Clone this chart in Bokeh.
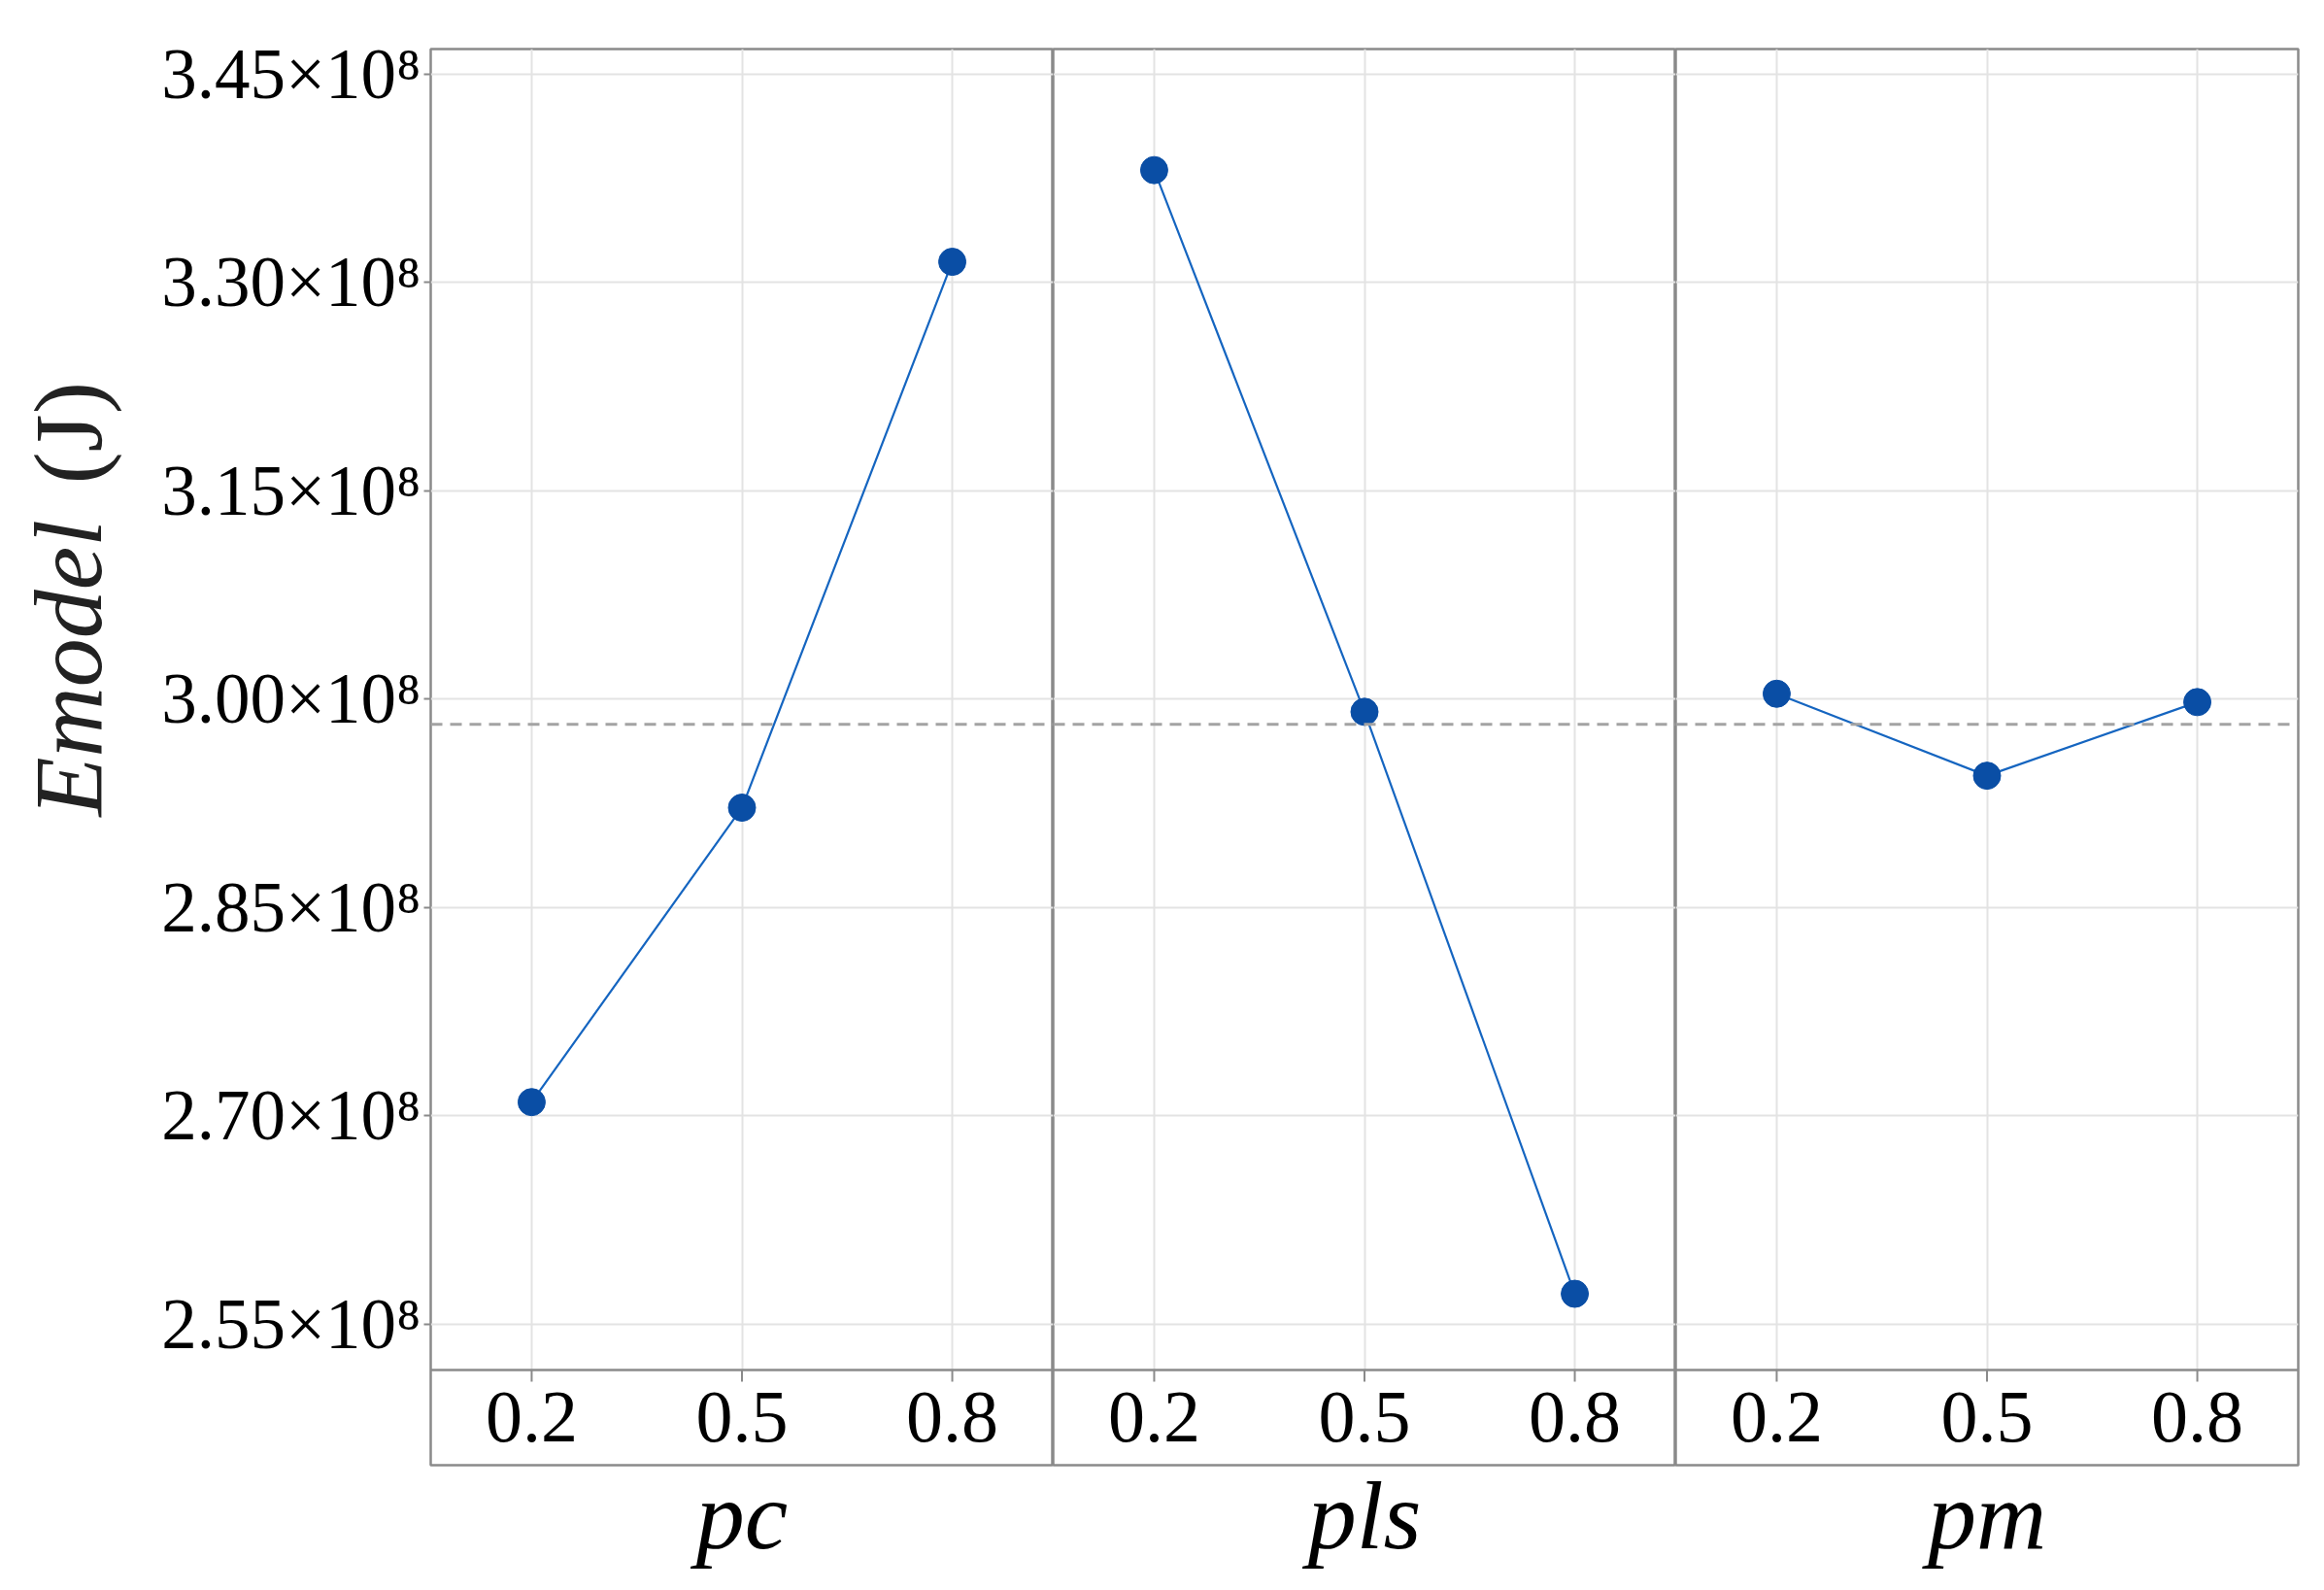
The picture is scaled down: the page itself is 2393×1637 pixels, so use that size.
import numpy as np
from bokeh.plotting import figure
from bokeh.layouts import row
from bokeh.models import Range1d, FixedTicker, Span, Grid
from bokeh.core.properties import value
from bokeh.embed import file_html
from bokeh.resources import INLINE

# ---- data (values in J) ----
FACTORS = ["pc", "pls", "pm"]
LEVELS = [0.2, 0.5, 0.8]
pc_vals = [2.710e8, 2.922e8, 3.315e8]
pls_vals = [3.381e8, 2.991e8, 2.572e8]
pm_vals = [3.004e8, 2.945e8, 2.998e8]
Y_TICKS = [2.55e8, 2.70e8, 2.85e8, 3.00e8, 3.15e8, 3.30e8, 3.45e8]
Y_TICK_LABELS = ["2.55×10⁸", "2.70×10⁸", "2.85×10⁸", "3.00×10⁸",
                 "3.15×10⁸", "3.30×10⁸", "3.45×10⁸"]
Y_TITLE = ["Emodel", "(J)"]
SERIES = [pc_vals, pls_vals, pm_vals]
grand_mean = float(np.mean(pc_vals + pls_vals + pm_vals))

# ---- layout constants ----
Y_MAX = 3.46818e8
Y_MIN = 2.4486e8
STRIP_TOP = 2.51713e8
VPP = 0.15e8 / 214.5          # value per pixel
X_MIN, X_MAX = 0.056, 0.944
FRAME_W = 641
FRAME_H = 1458
TOP = 50
BOTTOM = 127
TOTAL_H = TOP + FRAME_H + BOTTOM
TITLE_W = 150

FONT = "Liberation Serif"
GRID_C = "#e3e3e3"
BORDER_C = "#8a8a8a"
LINE_C = "#1565c0"
MARK_C = "#0a4ea5"

# ---- y-axis title column ----
t = figure(frame_width=TITLE_W, frame_height=TOTAL_H,
           x_range=Range1d(0, TITLE_W), y_range=Range1d(0, TOTAL_H),
           min_border_left=0, min_border_right=0, min_border_top=0,
           min_border_bottom=0, output_backend="svg", toolbar_location=None,
           x_axis_location=None, y_axis_location=None)
t.outline_line_color = None
t.grid.visible = False
t.background_fill_color = "white"
t.border_fill_color = "white"
t.text(x=[70], y=[TOTAL_H - 790], text=[Y_TITLE[0]], angle=np.pi / 2,
       text_align="left", text_baseline="middle",
       text_font=value(FONT), text_font_style="italic",
       text_font_size="100px", text_color="#222222")
t.text(x=[70], y=[TOTAL_H - 448], text=[Y_TITLE[1]], angle=np.pi / 2,
       text_align="left", text_baseline="middle",
       text_font=value(FONT), text_font_size="100px", text_color="#222222")

yr = Range1d(Y_MIN, Y_MAX)
figs = [t]
for i, (fac, vals) in enumerate(zip(FACTORS, SERIES)):
    left = 443 - TITLE_W if i == 0 else 0
    right = 22 if i == 2 else 0
    p = figure(frame_width=FRAME_W, frame_height=FRAME_H,
               x_range=Range1d(X_MIN, X_MAX), y_range=yr,
               min_border_left=left, min_border_right=right,
               min_border_top=TOP, min_border_bottom=BOTTOM,
               output_backend="svg", toolbar_location=None,
               y_axis_location="left" if i == 0 else None)
    p.background_fill_color = "white"
    p.border_fill_color = "white"
    p.outline_line_color = BORDER_C
    p.outline_line_width = 2.5
    p.xgrid.visible = False
    p.ygrid.visible = False

    # grids
    p.add_layout(Grid(dimension=1, ticker=FixedTicker(ticks=Y_TICKS),
                      grid_line_color=GRID_C, grid_line_width=2))
    if "cross_bounds" in Grid.properties():
        p.add_layout(Grid(dimension=0, ticker=FixedTicker(ticks=LEVELS),
                          cross_bounds=(STRIP_TOP, Y_MAX),
                          grid_line_color=GRID_C, grid_line_width=2))
    else:
        p.segment(x0=LEVELS, y0=[STRIP_TOP] * 3, x1=LEVELS, y1=[Y_MAX] * 3,
                  line_color=GRID_C, line_width=2)

    # strip top border and tick marks
    p.add_layout(Span(location=STRIP_TOP, dimension="width",
                      line_color=BORDER_C, line_width=2.5))
    p.segment(x0=LEVELS, y0=[STRIP_TOP] * 3, x1=LEVELS,
              y1=[STRIP_TOP - 12 * VPP] * 3, line_color=BORDER_C, line_width=2)

    # grand mean
    p.add_layout(Span(location=grand_mean, dimension="width",
                      line_color="#a3a3a3", line_width=3, line_dash="12 8"))

    # data
    p.line(x=LEVELS, y=vals, line_color=LINE_C, line_width=2.2)
    p.scatter(x=LEVELS, y=vals, size=28, marker="circle",
              fill_color=MARK_C, line_color=MARK_C)

    # x axis (tick labels inside strip, factor name below)
    xa = p.xaxis[0]
    xa.ticker = FixedTicker(ticks=LEVELS)
    xa.axis_line_color = None
    xa.major_tick_in = 0
    xa.major_tick_out = 0
    xa.minor_tick_line_color = None
    xa.major_label_standoff = -75
    xa.major_label_text_font = FONT
    xa.major_label_text_font_size = "76px"
    xa.major_label_text_color = "black"
    xa.axis_label = fac
    xa.axis_label_text_font = FONT
    xa.axis_label_text_font_style = "italic"
    xa.axis_label_text_font_size = "100px"
    xa.axis_label_text_color = "black"
    xa.axis_label_standoff = 18

    if i == 0:
        ya = p.yaxis[0]
        ya.ticker = FixedTicker(ticks=Y_TICKS)
        ya.major_label_overrides = {int(v): s for v, s in zip(Y_TICKS, Y_TICK_LABELS)}
        ya.axis_line_color = None
        ya.major_tick_in = 0
        ya.major_tick_out = 7
        ya.major_tick_line_color = BORDER_C
        ya.major_tick_line_width = 2
        ya.minor_tick_line_color = None
        ya.major_label_standoff = 3
        ya.major_label_text_font = FONT
        ya.major_label_text_font_size = "73px"
        ya.major_label_text_color = "black"
    figs.append(p)

layout = row(*figs, spacing=0)
open("out.html", "w").write(file_html(layout, INLINE))
